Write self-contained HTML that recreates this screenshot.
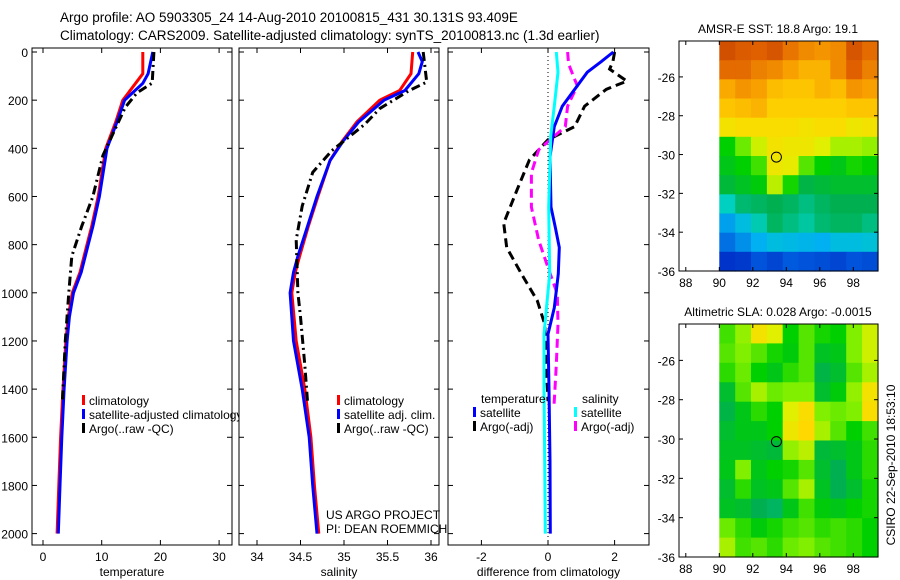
<!DOCTYPE html>
<html><head><meta charset="utf-8"><style>
html,body{margin:0;padding:0;background:#fff;}
svg{display:block;font-family:"Liberation Sans",sans-serif;}
text{fill:#000;}
</style></head><body>
<svg id="fig" width="900" height="580" viewBox="0 0 900 580" xmlns="http://www.w3.org/2000/svg">
<defs><clipPath id="clip1"><rect x="32" y="48" width="207" height="497"/></clipPath></defs>
<text x="60" y="22" font-size="13.5">Argo profile: AO 5903305_24 14-Aug-2010 20100815_431 30.131S 93.409E</text>
<text x="60" y="40" font-size="13.5">Climatology: CARS2009. Satellite-adjusted climatology: synTS_20100813.nc (1.3d earlier)</text>
<g id="layer"></g>
</svg>
<script>
// ---- data ----
const depthTicks=[0,200,400,600,800,1000,1200,1400,1600,1800,2000];
const tTicks=[0,10,20,30];
const sTicks=[34,34.5,35,35.5,36];
const sTickLabels=["34","34.5","35","35.5","36"];
const dTicks=[-2,0,2];
const tClimD=[0,90,200,290,400,600,724,800,915,1000,1100,1200,1400,1600,1800,2000];
const tClimV=[17.0,17.0,13.6,12.4,10.7,9.4,8.3,7.5,6.3,5.0,4.3,3.9,3.4,3.0,2.7,2.4];
const tSatD=[0,90,130,200,290,400,600,724,800,915,1000,1100,1200,1400,1600,1800,2000];
const tSatV=[18.7,17.9,17.0,13.9,12.6,10.9,9.6,8.5,7.7,6.5,5.2,4.5,4.1,3.6,3.2,2.9,2.6];
const tArgoD=[0,129,170,230,340,430,600,724,848,1000,1200,1450];
const tArgoV=[18.9,18.6,16.0,14.0,11.9,10.2,8.5,6.6,4.9,4.4,3.8,3.3];
const sClimD=[0,90,160,200,290,370,450,600,724,848,915,1000,1200,1400,1600,1800,2000];
const sClimV=[35.79,35.77,35.64,35.41,35.15,34.98,34.84,34.70,34.59,34.49,34.44,34.40,34.45,34.55,34.62,34.66,34.71];
const sSatD=[0,40,90,160,200,290,370,450,600,724,848,915,1000,1200,1400,1600,1800,2000];
const sSatV=[35.85,35.90,35.86,35.70,35.46,35.17,34.99,34.84,34.69,34.58,34.47,34.42,34.38,34.42,34.52,34.60,34.64,34.69];
const sArgoD=[0,60,125,160,235,300,410,500,640,780,1000,1100,1300,1450];
const sArgoV=[35.91,35.93,35.95,35.75,35.41,35.24,34.86,34.64,34.52,34.45,34.47,34.50,34.55,34.58];
const dTSatD=[0,40,84,167,225,310,435,644,728,812,921,1062,1172,1400,1700,2000];
const dTSatV=[1.96,1.60,1.18,0.74,0.43,0.19,0.06,0.09,0.22,0.34,0.31,0.19,0.0,0.03,0.06,0.07];
const dSSatD=[0,84,225,350,644,921,1172,1400,1700,2000];
const dSSatV=[0.25,0.30,0.19,0.08,0.02,0.05,-0.12,-0.12,-0.10,-0.08];
const dTArgoD=[0,40,71,121,155,225,310,364,448,573,711,812,921,1033,1130,1300,1450];
const dTArgoV=[2.0,1.95,1.85,2.37,1.75,1.10,0.80,0.0,-0.56,-0.93,-1.33,-1.24,-0.80,-0.32,-0.10,-0.05,0.0];
const dSArgoD=[0,50,113,140,225,310,406,502,644,782,895,1004,1130,1300,1470];
const dSArgoV=[0.59,0.62,0.80,0.88,0.59,0.52,-0.28,-0.50,-0.50,-0.28,0.0,0.28,0.30,0.25,0.18];
const sstGrid=[
[8.3,8.1,8.0,8.2,7.8,7.6,7.5,7.6,8.2,7.9],
[7.9,7.9,7.7,7.6,7.4,7.2,7.2,7.6,8.0,7.7],
[7.3,7.5,7.4,7.1,7.0,7.0,7.2,7.1,7.5,7.4],
[7.0,7.1,7.2,6.9,6.9,6.9,6.9,6.9,7.0,7.0],
[6.6,6.7,6.7,6.7,6.7,6.6,6.7,6.7,6.5,6.6],
[5.2,5.7,6.2,6.6,6.5,6.5,6.3,6.0,6.0,5.9],
[5.0,5.2,5.5,6.5,6.4,5.6,5.2,5.0,5.3,5.2],
[4.7,4.9,5.1,6.1,5.3,4.6,4.7,4.8,4.8,4.8],
[3.8,4.3,4.4,4.5,4.4,4.2,4.4,4.5,4.5,4.5],
[2.8,3.3,3.9,4.4,4.2,4.0,4.3,4.4,4.4,4.2],
[2.2,2.6,3.0,3.3,3.2,3.1,3.0,3.3,3.3,3.4],
[1.3,1.4,1.8,1.6,1.9,1.8,1.7,1.6,1.8,1.7]];
const slaGrid=[
[5.5,5.9,6.6,6.3,5.2,5.6,5.3,5.2,5.8,6.2],
[5.6,5.8,5.6,5.3,5.1,5.6,4.9,5.0,5.8,6.2],
[5.4,5.7,5.2,5.0,5.4,5.6,4.6,4.8,5.6,6.0],
[4.8,5.6,6.0,5.7,5.8,5.8,4.8,5.1,5.9,6.6],
[4.6,5.0,5.4,5.2,6.3,6.7,5.8,5.7,5.8,6.7],
[4.8,5.0,5.0,5.2,6.5,6.8,6.0,5.6,5.2,5.5],
[4.9,4.9,4.8,4.7,5.9,6.1,4.7,4.8,5.0,5.4],
[5.0,5.8,5.0,5.2,5.3,5.6,4.8,4.5,5.0,5.4],
[4.8,5.4,4.9,5.0,5.6,6.0,4.9,4.5,4.8,5.3],
[4.9,4.8,4.5,4.4,5.0,5.5,5.1,5.0,5.2,5.3],
[5.7,5.4,5.1,5.3,5.5,5.6,5.4,5.5,5.4,5.2],
[6.0,5.5,5.6,5.4,5.7,5.8,5.6,5.5,5.4,5.2]];
const latTicks=[-26,-28,-30,-32,-34,-36];
const lonTicks=[88,90,92,94,96,98];
const argoLon=93.409, argoLat=-30.131;

// ---- drawing ----
const NS="http://www.w3.org/2000/svg";
const L=document.getElementById('layer');
function mk(tag,at,parent){const e=document.createElementNS(NS,tag);for(const k in at)e.setAttribute(k,at[k]);(parent||L).appendChild(e);return e;}
const depthY=d=>52+0.2408*d;

function panel(name,x0,x1,xs,ticks,labels,xlabel,showY){
  const g=mk('g',{});
  
  
  const b=mk('rect',{x:x0,y:48,width:x1-x0,height:497,fill:'none',stroke:'#000','stroke-width':1},g);
  
  
  depthTicks.forEach(d=>{const y=depthY(d);
    mk('line',{x1:x0,x2:x0+5,y1:y,y2:y,stroke:'#000'},g);
    mk('line',{x1:x1-5,x2:x1,y1:y,y2:y,stroke:'#000'},g);
    if(showY){const t=mk('text',{x:x0-4,y:y+5,'font-size':12,'text-anchor':'end'},g);t.textContent=d;
      
      }
  });
  ticks.forEach((v,i)=>{const x=xs(v);
    mk('line',{x1:x,x2:x,y1:545,y2:540,stroke:'#000'},g);
    mk('line',{x1:x,x2:x,y1:48,y2:53,stroke:'#000'},g);
    const t=mk('text',{x:x,y:561,'font-size':12,'text-anchor':'middle'},g);t.textContent=labels[i];
    
    });
  const xl=mk('text',{x:(x0+x1)/2,y:576,'font-size':12,'text-anchor':'middle'},g);xl.textContent=xlabel;
  
  
  return g;
}
function series(g,name,D,V,xs,color,dash,w){
  const pts=D.map((d,i)=>xs(V[i]).toFixed(1)+','+depthY(d).toFixed(1)).join(' ');
  const p=mk('polyline',{points:pts,fill:'none',stroke:color,'stroke-width':w||3,'stroke-dasharray':dash||'none'},g);
  
  
}
function legend(g,x,y,entries){
  entries.forEach((e,i)=>{
    const yy=y+i*14;
    const m=mk('rect',{x:x,y:yy-10,width:3,height:10,fill:e[1]},g);
    
    
    const t=mk('text',{x:x+7,y:yy,'font-size':12},g);t.textContent=e[0];
    
    
  });
}
const DD='9,4,2,4', DA='9,5';
const xT=v=>43+5.87*v;
const g1=panel('temperature-panel',32,232,xT,tTicks,tTicks.map(String),'temperature',true);
series(g1,'temp-climatology-line',tClimD,tClimV,xT,'#f00');
series(g1,'temp-satellite-line',tSatD,tSatV,xT,'#00f');
series(g1,'temp-argo-line',tArgoD,tArgoV,xT,'#000',DD);
const lg1=mk('g',{'clip-path':'url(#clip1)'},g1);


legend(lg1,82,405,[['climatology','#f00'],['satellite-adjusted climatology','#00f'],['Argo(..raw -QC)','#000']]);
const xS=v=>257+87*(v-34);
const g2=panel('salinity-panel',239,439,xS,sTicks,sTickLabels,'salinity',false);
series(g2,'sal-climatology-line',sClimD,sClimV,xS,'#f00');
series(g2,'sal-satellite-line',sSatD,sSatV,xS,'#00f');
series(g2,'sal-argo-line',sArgoD,sArgoV,xS,'#000',DD);
legend(g2,337,405,[['climatology','#f00'],['satellite adj. clim.','#00f'],['Argo(..raw -QC)','#000']]);
const c1=mk('text',{x:326,y:519,'font-size':12},g2);c1.textContent='US ARGO PROJECT';


const c2=mk('text',{x:326,y:533,'font-size':12},g2);c2.textContent='PI: DEAN ROEMMICH';


const xD=v=>548+33.3*v;
const g3=panel('difference-panel',448,649,xD,dTicks,dTicks.map(String),'difference from climatology',false);
const zl=mk('line',{x1:xD(0),x2:xD(0),y1:48,y2:545,stroke:'#000','stroke-dasharray':'1,3'},g3);


series(g3,'diff-temp-argo-line',dTArgoD,dTArgoV,xD,'#000',DA);
series(g3,'diff-sal-argo-line',dSArgoD,dSArgoV,xD,'#f0f',DA);
series(g3,'diff-temp-satellite-line',dTSatD,dTSatV,xD,'#00f');
series(g3,'diff-sal-satellite-line',dSSatD,dSSatV,xD,'#0ff');
const lt=mk('text',{x:481,y:403,'font-size':12},g3);lt.textContent='temperature';


const ls=mk('text',{x:582,y:403,'font-size':12},g3);ls.textContent='salinity';


legend(g3,473,417,[['satellite','#00f'],['Argo(-adj)','#000']]);
legend(g3,574,417,[['satellite','#0ff'],['Argo(-adj)','#f0f']]);

// colormap
const cmStops=[[0,[0,0,128]],[0.1,[0,32,192]],[0.2,[0,96,224]],[0.3,[0,176,240]],[0.38,[0,208,192]],[0.45,[0,176,80]],[0.52,[0,208,0]],[0.58,[128,240,0]],[0.63,[224,240,0]],[0.68,[255,216,0]],[0.74,[248,160,0]],[0.8,[224,96,0]],[0.86,[192,64,0]],[1,[160,32,0]]];
function cmap(t){t=Math.max(0,Math.min(1,t));
  for(let i=1;i<cmStops.length;i++){if(t<=cmStops[i][0]){const a=cmStops[i-1],b=cmStops[i];const f=(t-a[0])/(b[0]-a[0]);
    const c=a[1].map((v,k)=>Math.round(v+(b[1][k]-v)*f));return 'rgb('+c.join(',')+')';}}
  return 'rgb(160,32,0)';}
function map(name,top,bottom,grid,title){
  const g=mk('g',{});
  
  
  const latY=la=>top+(-24.15-la)*((bottom-top)/11.85);
  const lonX=lo=>719.3+16.75*(lo-90);
  const nr=grid.length,nc=grid[0].length;
  const dLat=11.85/nr, dLon=(99.47-90)/nc;
  grid.forEach((row,r)=>row.forEach((v,c)=>{
    const x=lonX(90+c*dLon), y=latY(-24.15-r*dLat);
    const cell=mk('rect',{x:x.toFixed(1),y:y.toFixed(1),width:(16.75*dLon+0.6).toFixed(1),height:((bottom-top)/nr+0.6).toFixed(1),fill:cmap(v/10)},g);
    
    
  }));
  const fr=mk('rect',{x:679,y:top,width:199,height:bottom-top,fill:'none',stroke:'#000'},g);
  
  
  latTicks.forEach(la=>{const y=latY(la);
    mk('line',{x1:679,x2:683,y1:y,y2:y,stroke:'#000'},g);
    mk('line',{x1:874,x2:878,y1:y,y2:y,stroke:'#000'},g);
    const t=mk('text',{x:675,y:y+5,'font-size':12,'text-anchor':'end'},g);t.textContent=la;
    
    });
  lonTicks.forEach(lo=>{const x=lonX(lo);
    mk('line',{x1:x,x2:x,y1:bottom,y2:bottom-4,stroke:'#000'},g);
    mk('line',{x1:x,x2:x,y1:top,y2:top+4,stroke:'#000'},g);
    const t=mk('text',{x:x,y:bottom+16,'font-size':12,'text-anchor':'middle'},g);t.textContent=lo;
    
    });
  const tt=mk('text',{x:778,y:top-8,'font-size':12,'text-anchor':'middle'},g);tt.textContent=title;
  
  
  const m=mk('circle',{cx:lonX(argoLon),cy:latY(argoLat),r:5,fill:'none',stroke:'#000','stroke-width':1},g);
  
  
}
map('sst-map',41,271,sstGrid,'AMSR-E SST: 18.8 Argo: 19.1');
map('sla-map',324,557,slaGrid,'Altimetric SLA: 0.028 Argo: -0.0015');
const st=mk('text',{x:0,y:0,'font-size':12,'text-anchor':'middle',transform:'translate(895,465) rotate(-90)'});
st.textContent='CSIRO 22-Sep-2010 18:53:10';


</script>
</body></html>
